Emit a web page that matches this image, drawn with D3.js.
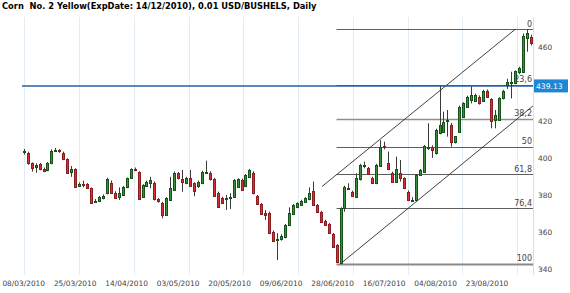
<!DOCTYPE html>
<meta charset="utf-8">
<head>
<title>Corn No. 2 Yellow</title>
<script src="https://d3js.org/d3.v7.min.js"></script>
<style>
body { margin: 0; background: #fff; }
.title { font: bold 8.3px "DejaVu Sans", sans-serif; fill: #000; white-space: pre; }
.axis text { font: 7.4px "DejaVu Sans", sans-serif; fill: #444; }
.fib text { font: 8px "DejaVu Sans", sans-serif; fill: #444; }
.price text { font: 7.6px "DejaVu Sans", sans-serif; fill: #fff; }
</style>
</head>
<body>
<script>

// tick labels on the time axis (one every 13 sessions)
var dateLabels = ["08/03/2010", "25/03/2010", "14/04/2010", "03/05/2010", "20/05/2010",
                  "09/06/2010", "28/06/2010", "16/07/2010", "04/08/2010", "23/08/2010"];
var dateIndex = [0, 13, 26, 39, 52, 65, 78, 91, 104, 117];
// 440 sits under the last price tag, so it is not printed
var priceTicks = [340, 360, 380, 400, 420, 460];

// daily bars: open, high, low, close
var ohlc = [
  [403.5, 405.0, 402.0, 403.7], [403.0, 403.6, 396.5, 397.3], [397.3, 397.8, 392.8, 394.9],
  [395.5, 397.3, 392.2, 396.6], [396.8, 397.5, 393.5, 394.1], [394.2, 395.0, 392.5, 393.2],
  [393.7, 398.0, 393.0, 397.3], [397.3, 404.8, 396.8, 404.1], [404.3, 405.6, 403.5, 404.6],
  [404.4, 405.0, 403.0, 403.8], [403.0, 403.6, 399.0, 399.5], [399.5, 400.0, 391.8, 392.2],
  [392.8, 395.8, 390.0, 394.0], [394.0, 394.6, 384.0, 384.6], [385.2, 387.0, 384.6, 386.3],
  [386.3, 387.9, 384.3, 385.5], [386.0, 386.6, 383.5, 383.8], [383.8, 384.2, 375.5, 376.0],
  [376.9, 378.0, 376.0, 377.1], [377.1, 379.6, 376.8, 379.2], [378.5, 380.5, 377.8, 379.6],
  [381.0, 389.5, 380.5, 388.6], [386.8, 388.0, 381.0, 381.4], [381.4, 382.2, 378.0, 378.7],
  [379.3, 384.3, 377.5, 381.0], [380.2, 385.0, 379.6, 384.6], [384.3, 389.6, 383.8, 389.2],
  [389.2, 394.6, 388.8, 394.0], [394.0, 395.0, 393.0, 393.9], [392.4, 393.0, 377.4, 377.8],
  [379.2, 386.0, 378.6, 385.6], [385.0, 388.0, 384.5, 387.4], [386.8, 390.0, 383.8, 388.3],
  [386.8, 387.5, 377.2, 377.8], [377.8, 378.5, 376.0, 376.9], [376.0, 376.5, 367.6, 369.4],
  [369.4, 379.0, 368.8, 378.4], [377.5, 390.0, 377.0, 383.8], [382.9, 392.8, 382.4, 392.2],
  [391.9, 392.6, 388.6, 389.2], [389.0, 393.7, 382.0, 387.0], [386.8, 390.0, 386.0, 389.2],
  [389.2, 393.7, 384.5, 385.0], [386.5, 387.0, 379.5, 382.5], [385.0, 388.0, 384.0, 387.4],
  [386.5, 393.3, 386.0, 392.8], [392.2, 398.7, 391.5, 392.8], [392.2, 393.0, 388.0, 388.8],
  [388.8, 389.4, 379.2, 379.8], [381.4, 382.0, 373.2, 373.8], [378.4, 379.2, 375.5, 376.0],
  [378.2, 380.2, 372.1, 378.5], [378.6, 381.1, 372.6, 378.9], [379.2, 388.8, 378.6, 388.3],
  [384.6, 389.2, 384.0, 388.6], [388.3, 389.0, 382.4, 382.9], [385.0, 391.5, 384.4, 391.0],
  [390.0, 394.3, 389.5, 393.7], [392.2, 393.0, 380.5, 381.0], [379.6, 380.2, 374.8, 375.3],
  [375.3, 375.8, 369.4, 369.9], [370.2, 372.0, 366.6, 369.5], [370.6, 371.2, 359.0, 359.5],
  [360.3, 361.0, 354.8, 355.3], [356.0, 359.5, 345.0, 356.4], [356.2, 359.0, 355.5, 358.0],
  [357.3, 364.5, 356.8, 364.0], [364.0, 373.5, 363.5, 370.3], [369.9, 375.3, 369.3, 374.8],
  [373.5, 376.2, 373.0, 375.7], [374.8, 377.6, 374.3, 377.1], [376.5, 379.0, 376.0, 378.4],
  [377.8, 384.3, 377.3, 381.1], [382.5, 387.4, 374.3, 374.8], [374.8, 375.3, 370.6, 371.1],
  [371.1, 371.6, 365.2, 365.7], [366.3, 366.8, 363.5, 364.0], [364.5, 365.0, 359.3, 359.8],
  [359.1, 359.6, 351.7, 352.2], [353.1, 353.6, 343.5, 344.1], [343.5, 373.5, 343.0, 373.0],
  [373.0, 385.2, 371.1, 384.6], [384.0, 386.5, 382.9, 383.6], [381.6, 382.5, 379.0, 379.6],
  [379.2, 391.9, 378.8, 389.2], [388.6, 397.0, 388.0, 396.4], [396.2, 398.2, 394.6, 396.6],
  [394.6, 395.3, 391.0, 391.5], [389.4, 390.0, 386.3, 386.8], [386.5, 397.0, 386.0, 396.4],
  [395.8, 409.8, 395.3, 406.3], [406.4, 409.0, 404.8, 406.0], [397.5, 403.6, 393.5, 394.0],
  [392.2, 392.8, 387.0, 387.4], [387.4, 400.9, 386.8, 394.0], [392.2, 399.1, 387.4, 389.2],
  [389.2, 389.8, 383.3, 383.8], [382.0, 382.6, 377.0, 377.5], [377.2, 379.0, 376.4, 377.6],
  [377.4, 391.5, 376.8, 391.0], [391.0, 394.2, 390.5, 393.7], [392.8, 407.2, 392.3, 406.6],
  [405.8, 418.9, 404.5, 406.2], [406.0, 407.0, 400.2, 404.6], [402.7, 416.0, 402.0, 415.2],
  [413.5, 439.0, 413.0, 418.0], [414.4, 425.2, 413.8, 419.8], [420.0, 426.1, 411.7, 420.8],
  [418.0, 419.0, 406.3, 409.0], [409.0, 412.0, 408.0, 411.8], [414.4, 428.5, 414.0, 427.9],
  [422.5, 430.3, 422.0, 429.7], [427.9, 433.8, 427.4, 433.3], [431.5, 438.9, 429.7, 434.2],
  [431.0, 435.0, 430.5, 434.2], [433.3, 434.0, 429.0, 429.7], [431.0, 437.0, 430.5, 436.4],
  [436.4, 437.2, 432.8, 433.3], [431.8, 432.5, 416.2, 420.4], [420.7, 426.1, 416.2, 423.4],
  [420.7, 433.0, 420.2, 432.4], [432.4, 437.0, 431.8, 436.4], [439.6, 443.0, 437.5, 441.4],
  [440.5, 446.8, 432.4, 441.0], [440.5, 447.5, 440.0, 447.2], [446.5, 449.5, 445.5, 448.6],
  [446.8, 467.5, 446.2, 466.0], [465.0, 469.7, 457.6, 467.6], [465.7, 466.8, 461.0, 462.5]
];

// fibonacci retracement from the June low bar to the top
var fibLevels = [0, 23.6, 38.2, 50, 61.8, 76.4, 100];
var fibLabels = ["0", "23,6", "38,2", "50", "61,8", "76,4", "100"];
var fibLowBar = 80;
var fibFrom = 79;

// parallel trend channel, [bar, price] end points
var upperChannel = [[75.3, 384.7], [124.1, 469.7]];
var lowerChannel = [[80, 343.0], [128.6, 428.3]];

var lastPrice = 439.13;
var gridEvery = 13.83;   // vertical grid spacing, in bars

var W = 570, H = 293;
var plot = {left: 22, right: 533, top: 17, bottom: 275};

var x = d3.scaleLinear().domain([0, 128]).range([23.7, 530.6]);
var y = d3.scaleLinear().domain([340, 460]).range([269.3, 47.3]);

function px(v) { return Math.round(v) + 0.5; }

var svg = d3.select("body").append("svg")
    .attr("width", W)
    .attr("height", H);

svg.append("text")
    .attr("class", "title")
    .attr("x", 2)
    .attr("y", 9)
    .text("Corn  No. 2 Yellow(ExpDate: 14/12/2010), 0.01 USD/BUSHELS, Daily");

// vertical grid
svg.append("g").selectAll("line")
    .data(d3.range(0.15, 129, gridEvery))
  .enter().append("line")
    .attr("x1", function(d) { return px(x(d)); })
    .attr("x2", function(d) { return px(x(d)); })
    .attr("y1", plot.top)
    .attr("y2", plot.bottom)
    .attr("stroke", "#e2ecf5")
    .attr("stroke-width", 1);

// right border
svg.append("line")
    .attr("x1", px(plot.right)).attr("x2", px(plot.right))
    .attr("y1", plot.top).attr("y2", plot.bottom)
    .attr("stroke", "#d5e2ee");

// fibonacci levels
var hi = d3.max(ohlc.slice(fibLowBar), function(d) { return d[1]; });
var lo = ohlc[fibLowBar][2];
var fib = svg.append("g").attr("class", "fib");

fib.selectAll("line")
    .data(fibLevels)
  .enter().append("line")
    .attr("x1", x(fibFrom))
    .attr("x2", plot.right)
    .attr("y1", function(d) { return px(y(hi - d / 100 * (hi - lo))); })
    .attr("y2", function(d) { return px(y(hi - d / 100 * (hi - lo))); })
    .attr("stroke", function(d) { return d == 100 ? "#8a8a8a" : (d == 38.2 ? "#8f8f8f" : "#5e5e5e"); })
    .attr("stroke-width", function(d) { return d == 100 ? 2 : (d == 38.2 ? 1.5 : 1); });

fib.selectAll("text")
    .data(fibLevels)
  .enter().append("text")
    .attr("x", plot.right - 1)
    .attr("y", function(d) { return y(hi - d / 100 * (hi - lo)) - 2.5; })
    .attr("text-anchor", "end")
    .text(function(d, i) { return fibLabels[i]; });

// channel
svg.append("g").selectAll("line")
    .data([upperChannel, lowerChannel])
  .enter().append("line")
    .attr("x1", function(d) { return x(d[0][0]); })
    .attr("y1", function(d) { return y(d[0][1]); })
    .attr("x2", function(d) { return x(d[1][0]); })
    .attr("y2", function(d) { return y(d[1][1]); })
    .attr("stroke", "#2b2b2b")
    .attr("stroke-width", 0.9);

// last price line
svg.append("line")
    .attr("x1", plot.left)
    .attr("x2", plot.right)
    .attr("y1", y(lastPrice))
    .attr("y2", y(lastPrice))
    .attr("stroke", "#2762a3")
    .attr("stroke-width", 1.5);

// candles
var bars = svg.append("g").selectAll("g")
    .data(ohlc)
  .enter().append("g");

bars.append("line")
    .attr("x1", function(d, i) { return px(x(i)); })
    .attr("x2", function(d, i) { return px(x(i)); })
    .attr("y1", function(d) { return y(d[1]); })
    .attr("y2", function(d) { return y(d[2]); })
    .attr("stroke", "#3a3a3a")
    .attr("stroke-width", 1);

bars.append("rect")
    .attr("x", function(d, i) { return Math.round(x(i)) - 0.5; })
    .attr("width", 2)
    .attr("y", function(d) { return px(y(Math.max(d[0], d[3]))); })
    .attr("height", function(d) {
      return Math.max(1, px(y(Math.min(d[0], d[3]))) - px(y(Math.max(d[0], d[3]))));
    })
    .attr("fill", function(d) { return d[3] >= d[0] ? "#3b8f3b" : "#d3313a"; })
    .attr("stroke", function(d) { return d[3] >= d[0] ? "#15521a" : "#8e1b20"; })
    .attr("stroke-width", 1);

// price axis on the right
var yAxis = svg.append("g").attr("class", "axis");
yAxis.selectAll("text")
    .data(priceTicks)
  .enter().append("text")
    .attr("x", 538)
    .attr("y", function(d) { return y(d); })
    .attr("dy", "0.35em")
    .text(function(d) { return d; });

// time axis
var xAxis = svg.append("g").attr("class", "axis");
xAxis.selectAll("text")
    .data(dateLabels)
  .enter().append("text")
    .attr("x", function(d, i) { return x(dateIndex[i]); })
    .attr("y", 286)
    .attr("text-anchor", "middle")
    .text(function(d) { return d; });

// last price tag
var tag = svg.append("g").attr("class", "price");
tag.append("rect")
    .attr("x", 534)
    .attr("y", y(lastPrice) - 6.5)
    .attr("width", 34)
    .attr("height", 13)
    .attr("fill", "#1f86d3");
tag.append("text")
    .attr("x", 536)
    .attr("y", y(lastPrice))
    .attr("dy", "0.35em")
    .text(lastPrice.toFixed(2));

</script>
</body>
